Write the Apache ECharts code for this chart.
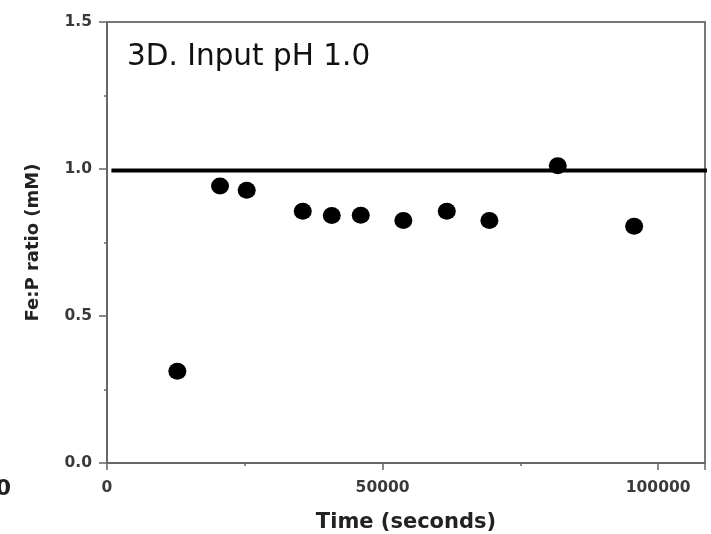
<!DOCTYPE html>
<html>
<head>
<meta charset="utf-8">
<script src="https://cdn.jsdelivr.net/npm/echarts@6/dist/echarts.min.js"></script>
<style>html,body{margin:0;padding:0;background:#fff;}#c{width:711px;height:534px;}</style>
</head>
<body>
<div id="c"></div>
<script>
const timeSeconds = [12760, 20510, 25350, 35520, 40780, 46040, 53770, 61650, 69380, 81790, 95640];
const feP = [0.312, 0.942, 0.928, 0.856, 0.842, 0.843, 0.825, 0.856, 0.825, 1.011, 0.805];
const refLineX = [800, 111000];
const refLineY = [0.995, 0.995];
const titleText = '3D. Input pH 1.0';
const xName = 'Time (seconds)';
const yName = 'Fe:P ratio (mM)';

const chart = echarts.init(document.getElementById('c'), null, {renderer: 'canvas', width: 711, height: 534});
const labelFont = {fontFamily: 'DejaVu Sans', fontWeight: 'bold', fontSize: 15.5, color: '#3a3a3a'};
chart.setOption({
  animation: false,
  backgroundColor: '#fff',
  grid: {left: 107, top: 22, right: 6, bottom: 71, containLabel: false, outerBoundsMode: 'none', show: true, borderColor: '#777', borderWidth: 2, backgroundColor: 'transparent'},
  xAxis: {
    type: 'value', min: 0, max: 108500, interval: 50000,
    name: xName, nameLocation: 'middle', nameGap: 49,
    nameTextStyle: {fontFamily: 'DejaVu Sans', fontWeight: 'bold', fontSize: 21, color: '#222'},
    axisLine: {show: true, lineStyle: {color: '#666', width: 2}},
    axisTick: {show: true, inside: false, length: 7, lineStyle: {color: '#666', width: 1.5}},
    minorTick: {show: true, splitNumber: 2, length: 3, lineStyle: {color: '#666', width: 1.5}},
    splitLine: {show: false},
    axisLabel: Object.assign({margin: 17, formatter: v => String(v), showMaxLabel: false}, labelFont)
  },
  yAxis: {
    type: 'value', min: 0, max: 1.5, interval: 0.5,
    name: yName, nameLocation: 'middle', nameGap: 65,
    nameTextStyle: {fontFamily: 'DejaVu Sans', fontWeight: 'bold', fontSize: 18, color: '#222'},
    axisLine: {show: true, lineStyle: {color: '#666', width: 2}},
    axisTick: {show: true, inside: false, length: 8, lineStyle: {color: '#666', width: 1.5}},
    minorTick: {show: true, splitNumber: 2, length: 3, lineStyle: {color: '#666', width: 1.5}},
    splitLine: {show: false},
    axisLabel: Object.assign({margin: 15, formatter: v => v.toFixed(1)}, labelFont)
  },
  graphic: [
    {type: 'text', left: 127, top: 42, style: {text: titleText, fontFamily: 'DejaVu Sans', fontSize: 29.5, fill: '#111'}},
    {type: 'text', right: 700, top: 478, style: {text: '0', fontFamily: 'DejaVu Sans', fontWeight: 'bold', fontSize: 22, fill: '#222'}}
  ],
  series: [
    {
      type: 'line', data: refLineX.map((x, i) => [x, refLineY[i]]),
      symbol: 'none', clip: false, silent: true,
      lineStyle: {color: '#000', width: 4}
    },
    {
      type: 'scatter', data: timeSeconds.map((t, i) => [t, feP[i]]),
      symbol: 'circle', symbolSize: [18, 17],
      itemStyle: {color: '#000', opacity: 1}
    }
  ]
});
</script>
</body>
</html>
